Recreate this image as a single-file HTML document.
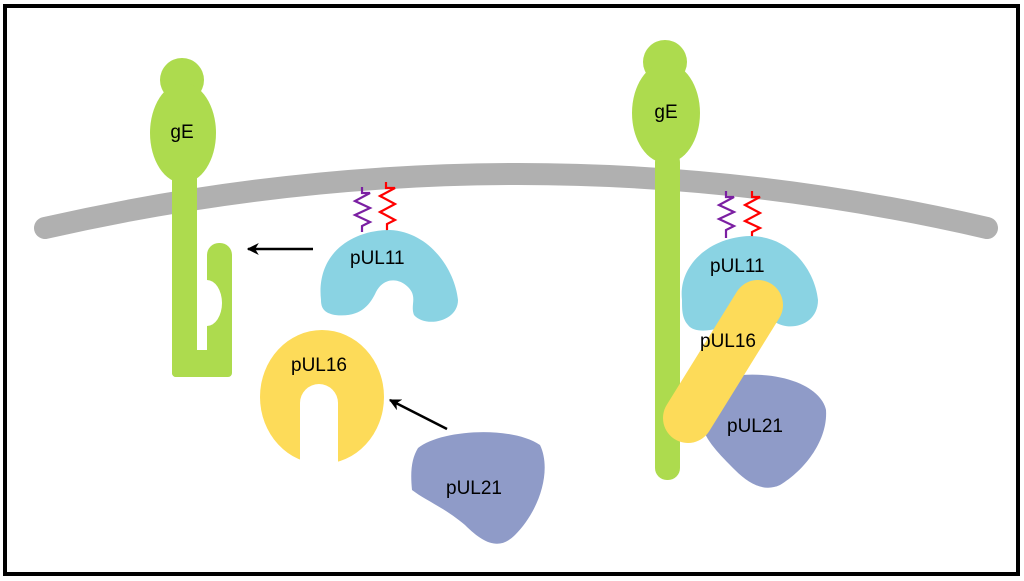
<!DOCTYPE html>
<html><head><style>html,body{margin:0;padding:0;background:#fff}svg{display:block}</style></head>
<body>
<svg width="1024" height="581" viewBox="0 0 1024 581" xmlns="http://www.w3.org/2000/svg" font-family="'Liberation Sans', sans-serif">
<defs>
<marker id="ah" markerWidth="12" markerHeight="12" refX="9" refY="5" orient="auto" markerUnits="userSpaceOnUse" viewBox="0 0 10 10"><path d="M10,5 L0,0 L3,5 L0,10 Z" fill="#000"/></marker>
<clipPath id="cl"><rect x="0" y="0" width="1024" height="463"/></clipPath>
</defs>
<rect x="5" y="6" width="1013" height="568" fill="#fff" stroke="#000" stroke-width="4"/>
<path d="M45,228 Q520,120 987,228" fill="none" stroke="#b0b0b0" stroke-width="22" stroke-linecap="round"/>
<g fill="#addb4e">
<circle cx="182" cy="80" r="22"/>
<ellipse cx="183" cy="133" rx="33" ry="50"/>
<rect x="172" y="160" width="25" height="217" rx="4"/>
<rect x="172" y="350" width="60" height="27" rx="4"/>
<rect x="207" y="243" width="25" height="134" rx="12"/>
</g>
<path d="M197,280 L207,280 A15,23 0 0 1 207,326 L197,326 Z" fill="#fff"/>
<rect x="197" y="250" width="10" height="100" fill="#fff"/>
<text x="182" y="138" font-size="19" text-anchor="middle">gE</text>
<polyline points="362,187 362,193 370,193 355,201 370,208 355,215 370,222 362,226 362,232" fill="none" stroke="#7b1fa2" stroke-width="2.2"/>
<polyline points="386,182 386,188 395,188 380,196 395,204 380,212 395,220 387,224 387,232" fill="none" stroke="#f00" stroke-width="2.2"/>
<path d="M321,300 C316,255 350,230 390,230 C430,232 455,270 458,300 C458,322 425,328 414,315 C410,305 418,297 408,287 C398,277 383,278 376,292 C370,305 360,318 335,315 C324,313 321,308 321,300 Z" fill="#8ad3e3"/>
<text x="350" y="264" font-size="19">pUL11</text>
<line x1="313" y1="249" x2="248" y2="249" stroke="#000" stroke-width="2.5" marker-end="url(#ah)"/>
<g clip-path="url(#cl)">
<ellipse cx="322" cy="397" rx="62" ry="67" fill="#fddb59"/>
</g>
<path d="M300,470 L300,403 A19,19 0 0 1 338,403 L338,470 Z" fill="#fff"/>
<text x="291" y="371" font-size="19">pUL16</text>
<line x1="447" y1="429" x2="390" y2="400" stroke="#000" stroke-width="2.5" marker-end="url(#ah)"/>
<path d="M418,448 C440,430 510,425 540,445 C552,470 540,510 515,535 C500,550 485,545 465,525 C445,508 425,500 412,490 C410,470 412,458 418,448 Z" fill="#8f9bc8"/>
<text x="446" y="494" font-size="19">pUL21</text>
<g fill="#addb4e">
<circle cx="665" cy="62" r="22"/>
<ellipse cx="666" cy="113" rx="34" ry="50"/>
<rect x="655" y="150" width="25" height="330" rx="12"/>
</g>
<text x="666" y="118" font-size="19" text-anchor="middle">gE</text>
<polyline points="726,191 726,197 734,197 719,205 734,212 719,219 734,226 726,230 726,238" fill="none" stroke="#7b1fa2" stroke-width="2.2"/>
<polyline points="752,191 752,197 760,197 745,205 760,213 745,221 760,228 752,232 752,238" fill="none" stroke="#f00" stroke-width="2.2"/>
<path d="M682,300 C678,265 710,237 750,236 C790,236 815,270 818,300 C818,325 790,332 775,322 L735,322 C720,330 695,335 688,325 C682,318 682,310 682,300 Z" fill="#8ad3e3"/>
<text x="710" y="272" font-size="19">pUL11</text>
<path d="M742,375 C790,372 822,390 826,410 C828,440 805,470 780,485 C765,492 750,485 735,470 C720,455 705,440 702,425 C705,400 720,380 742,375 Z" fill="#8f9bc8"/>
<line x1="758" y1="305" x2="688" y2="418" stroke="#fddb59" stroke-width="50" stroke-linecap="round"/>
<text x="700" y="347" font-size="19">pUL16</text>
<text x="727" y="432" font-size="19">pUL21</text>
</svg>
</body></html>
